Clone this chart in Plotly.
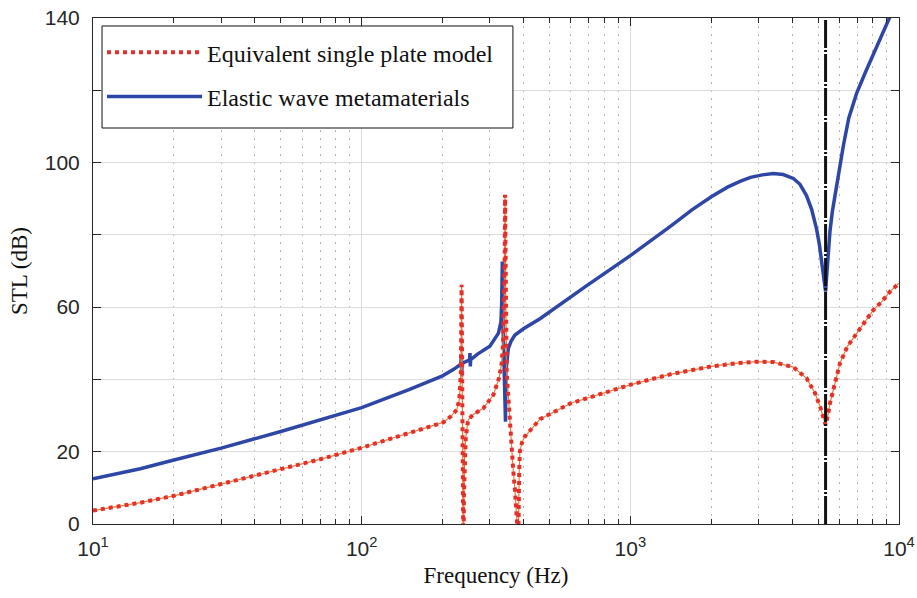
import plotly.graph_objects as go

# ---------------- data ----------------
freq_meta = [10, 15, 20, 30, 50, 70, 100, 150, 200, 220, 232, 234, 235, 235.7, 236.5, 245, 252, 253, 253.7, 254.5,
             270, 300, 323, 330, 332, 333.9, 336, 338, 340, 342, 343, 344, 346.5, 351.5, 360, 372, 400, 461, 678,
             997, 1405, 1700, 2008, 2300, 2560, 2800, 3100, 3404, 3707, 4043, 4281, 4530, 4732, 4937, 5050, 5150,
             5250, 5330, 5378, 5457, 5535, 5650, 5745, 5900, 6031, 6204, 6500, 6958, 7500, 8000, 8600, 9204, 10000]
stl_meta = [12.5, 15.3, 17.7, 21.0, 25.6, 28.7, 32.2, 37.2, 41.0, 42.8, 43.9, 44.2, 46.8, 40.8, 44.4, 45.0, 45.3,
            47.3, 43.6, 45.5, 47.0, 49.2, 52.8, 56.0, 61.0, 72.6, 55.0, 45.0, 38.0, 31.0, 28.3, 42.0, 45.4, 48.6,
            50.6, 52.3, 54.0, 56.8, 65.6, 74.2, 82.3, 87.0, 90.6, 93.2, 94.8, 95.9, 96.6, 97.0, 96.7, 95.6, 94.0,
            90.8, 87.0, 81.5, 77.5, 72.0, 66.5, 64.3, 68.5, 75.0, 81.0, 86.5, 89.8, 95.2, 99.6, 104.6, 112.3, 119.2,
            125.0, 129.6, 134.8, 140.0, 146.0]

freq_single = [10, 15, 20, 30, 50, 70, 100, 150, 201, 215, 226, 231, 234, 235.5, 236.5, 237.5, 238.5, 239.3, 240.2,
               241.5, 244, 249, 260, 283.6, 309, 325, 332, 336, 339, 340.8, 341.7, 343.5, 346.5, 351.5, 356, 361,
               366, 372, 376, 379, 381, 383, 386, 388, 395, 405, 429.5, 461, 600, 997, 1405, 2008, 2500, 2953, 3404,
               4043, 4530, 4870, 5085, 5234, 5330, 5457, 5535, 5778, 6031, 6420, 6958, 7470, 8022, 8622, 9258, 10000]
stl_single = [3.7, 5.9, 7.8, 11.1, 15.1, 17.9, 21.1, 25.1, 28.1, 29.8, 31.6, 34.5, 42.0, 66.2, 40.0, 20.0, 5.0,
              -15.0, 8.0, 18.0, 24.0, 28.8, 30.3, 32.0, 35.7, 40.5, 44.5, 50.0, 60.0, 75.0, 91.1, 65.0, 42.0, 35.2,
              28.0, 21.4, 15.5, 9.4, 4.5, 0.0, -15.0, 5.0, 15.0, 20.0, 22.5, 24.2, 26.5, 29.0, 33.4, 38.5, 41.4,
              43.6, 44.5, 44.9, 44.8, 43.4, 40.3, 36.2, 32.5, 29.7, 27.4, 30.6, 33.4, 39.0, 44.5, 49.1, 52.8, 56.0,
              59.2, 61.5, 64.3, 66.6]

cutoff_freq = [5330, 5330]
cutoff_stl = [0, 140]

x_tickvals = [10, 100, 1000, 10000]
x_ticktext = ["10<sup>1</sup>", "10<sup>2</sup>", "10<sup>3</sup>", "10<sup>4</sup>"]
x_minor = [m * d for d in (10, 100, 1000) for m in range(2, 10)]
y_tickvals = [0, 20, 60, 100, 140]
y_minor = [40, 80, 120]

BLUE = "#2E47A7"
RED = "#E5302A"
ORANGE = "#EE7A3A"

fig = go.Figure()
fig.add_trace(go.Scatter(x=freq_meta, y=stl_meta, mode="lines", name="Elastic wave metamaterials",
                         line=dict(color=BLUE, width=3.5), legendrank=2, legendgroup="b"))
fig.add_trace(go.Scatter(x=freq_single, y=stl_single, mode="lines", showlegend=False,
                         line=dict(color=ORANGE, width=1.2)))
fig.add_trace(go.Scatter(x=freq_single, y=stl_single, mode="lines", name="Equivalent single plate model",
                         line=dict(color=RED, width=4, dash="4px,4px"), legendrank=1, legendgroup="a"))
fig.add_trace(go.Scatter(x=cutoff_freq, y=cutoff_stl, mode="lines", showlegend=False,
                         line=dict(color="#111111", width=3, dash="28px,2px,2px,2px")))

tickfont = dict(family="Liberation Sans, Arial, sans-serif", size=21, color="#262626")
titlefont = dict(family="Liberation Serif, Times New Roman, serif", size=23, color="#111111")

# legend frame (drawn as a shape, legend entries sit on top of it)
fig.add_shape(type="rect", xref="paper", yref="paper", x0=0.0112, x1=0.521, y0=0.7826, y1=0.9842,
              line=dict(color="#111111", width=1), fillcolor="white", layer="above")

fig.update_layout(
    width=917, height=598,
    margin=dict(l=93, r=18, t=18, b=74, autoexpand=False),
    paper_bgcolor="white", plot_bgcolor="white",
    showlegend=True,
    legend=dict(x=0.0112, y=0.976, xanchor="left", yanchor="top",
                bgcolor="rgba(0,0,0,0)", borderwidth=0,
                font=dict(family="Liberation Serif, Times New Roman, serif", size=24, color="#111111"),
                itemwidth=95, tracegroupgap=10, traceorder="grouped"),
    xaxis=dict(type="log", range=[1, 4], tickvals=x_tickvals, ticktext=x_ticktext, automargin=False,
               ticks="inside", ticklen=8, tickcolor="#262626", showline=True, linecolor="#262626",
               linewidth=1, mirror="ticks", showgrid=True, gridcolor="#DCDCDC", gridwidth=1,
               zeroline=False, tickfont=tickfont, ticklabelstandoff=6,
               minor=dict(tickmode="array", tickvals=x_minor, ticks="inside", ticklen=5,
                          tickcolor="#262626", showgrid=True, gridcolor="#B4B4B4", griddash="2px,6px",
                          gridwidth=1),
               title=dict(text="Frequency (Hz)", font=titlefont, standoff=7)),
    yaxis=dict(range=[0, 140], tickvals=y_tickvals, automargin=False,
               ticks="inside", ticklen=8, tickcolor="#262626", showline=True, linecolor="#262626",
               linewidth=1, mirror="ticks", showgrid=True, gridcolor="#DCDCDC", gridwidth=1,
               zeroline=False, tickfont=tickfont, ticklabelstandoff=8,
               minor=dict(tickmode="array", tickvals=y_minor, ticks="inside", ticklen=8,
                          tickcolor="#262626", showgrid=True, gridcolor="#DCDCDC", gridwidth=1),
               title=dict(text="STL (dB)", font=titlefont, standoff=10)),
)

fig.write_html("out.html")
